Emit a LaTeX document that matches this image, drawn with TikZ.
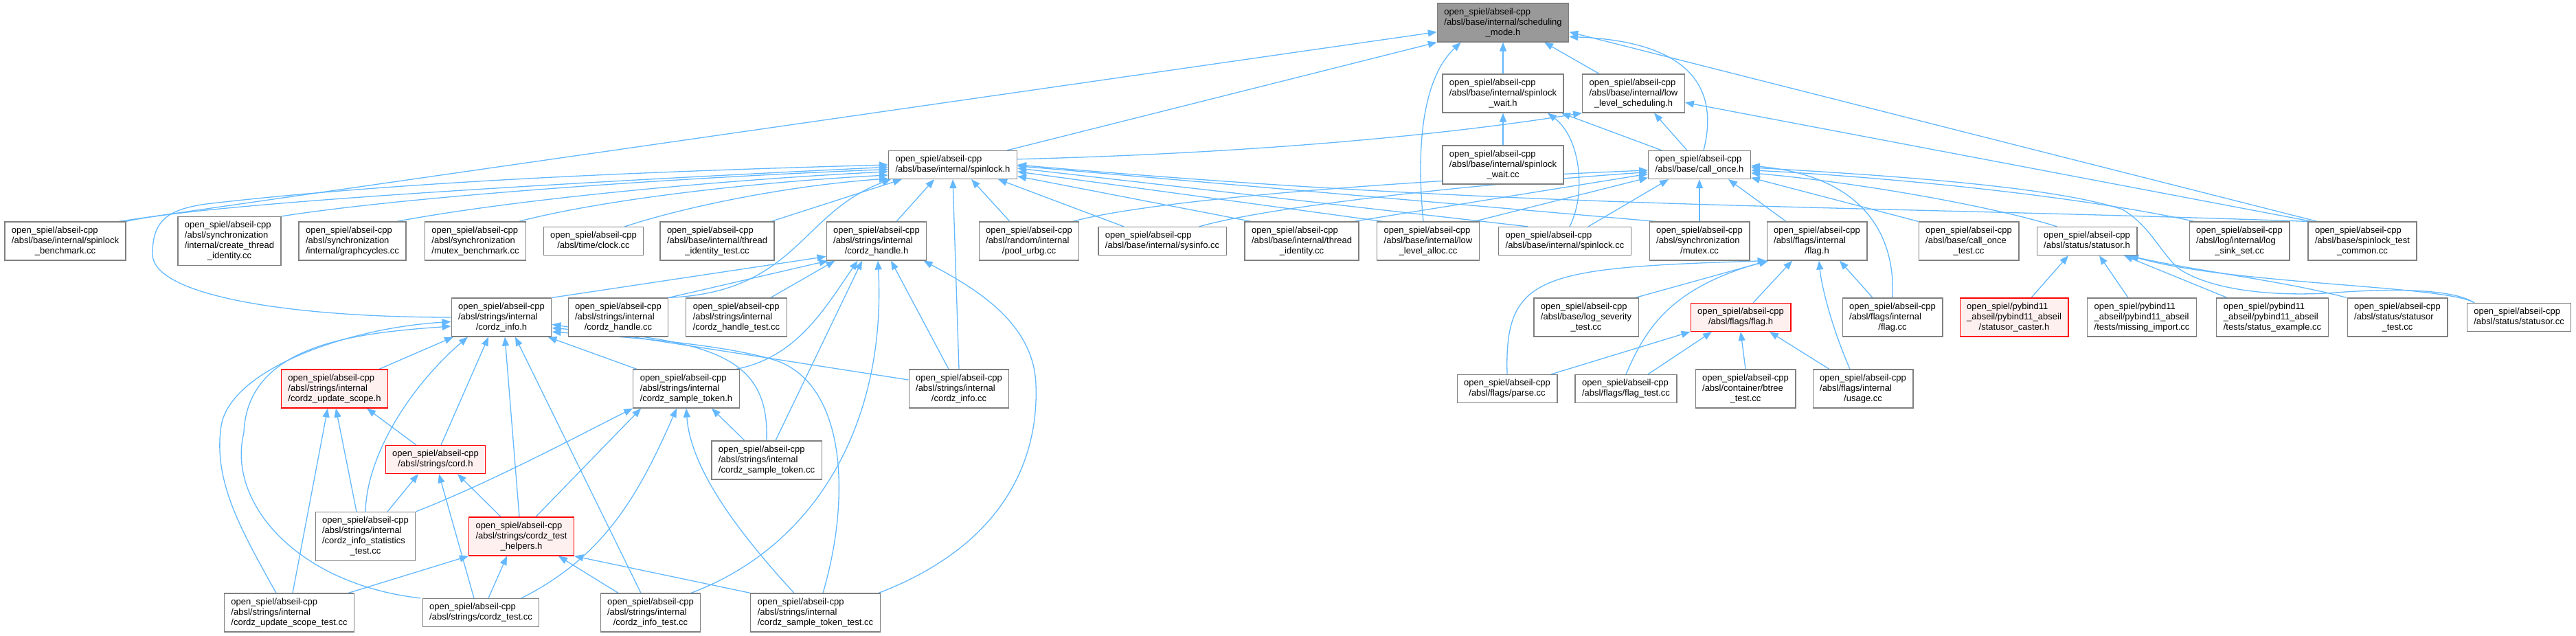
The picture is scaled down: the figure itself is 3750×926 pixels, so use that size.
\documentclass[tikz,border=0pt]{standalone}
\usepackage{fontspec}
\newfontfamily\dxfont{Liberation Sans}
\usetikzlibrary{arrows.meta}
\pgfdeclarelayer{bg}
\pgfsetlayers{bg,main}
\definecolor{eblue}{HTML}{63B8FF}
\definecolor{gborder}{HTML}{808080}
\definecolor{rootfill}{HTML}{999999}
\definecolor{redfill}{HTML}{FFF0F0}
\newcommand{\nlab}[2]{\begin{tabular}{@{}l@{}}#1\\\multicolumn{1}{@{}c@{}}{#2}\end{tabular}}
\newcommand{\osa}{open\_spiel/abseil-cpp}
\newcommand{\opb}{open\_spiel/pybind11}
\begin{document}
\begin{tikzpicture}[x=1pt,y=-1pt,
  nd/.style={draw=gborder, line width=1.2pt, fill=white, inner xsep=10pt, inner ysep=5.5pt, font=\dxfont\fontsize{13}{15}\selectfont},
  root/.style={nd, fill=rootfill},
  rd/.style={nd, draw=red, fill=redfill},
  edge/.style={draw=eblue, line width=1.3pt, -{Triangle[length=13pt,width=10pt]}}]
\useasboundingbox (0,0) rectangle (3750,926);
% ---------------- nodes
\node[root] (sm) at (2188,33) {\nlab{\osa\\/absl/base/internal/scheduling}{\_mode.h}};
\node[nd] (sw) at (2188,136) {\nlab{\osa\\/absl/base/internal/spinlock}{\_wait.h}};
\node[nd] (lls) at (2378,136) {\nlab{\osa\\/absl/base/internal/low}{\_level\_scheduling.h}};
\node[nd] (swcc) at (2188,240) {\nlab{\osa\\/absl/base/internal/spinlock}{\_wait.cc}};
\node[nd] (sl) at (1387,240) {\nlab{\osa}{/absl/base/internal/spinlock.h}};
\node[nd] (co) at (2474,240) {\nlab{\osa}{/absl/base/call\_once.h}};
% row y=351
\node[nd] (sb) at (95,351) {\nlab{\osa\\/absl/base/internal/spinlock}{\_benchmark.cc}};
\node[nd] (cti) at (334,351) {\nlab{\osa\\/absl/synchronization\\/internal/create\_thread}{\_identity.cc}};
\node[nd] (gc) at (513,351) {\nlab{\osa\\/absl/synchronization}{/internal/graphcycles.cc}};
\node[nd] (mb) at (692,351) {\nlab{\osa\\/absl/synchronization}{/mutex\_benchmark.cc}};
\node[nd] (clk) at (864,351) {\nlab{\osa}{/absl/time/clock.cc}};
\node[nd] (tit) at (1044,351) {\nlab{\osa\\/absl/base/internal/thread}{\_identity\_test.cc}};
\node[nd] (ch) at (1276,351) {\nlab{\osa\\/absl/strings/internal}{/cordz\_handle.h}};
\node[nd] (pu) at (1498,351) {\nlab{\osa\\/absl/random/internal}{/pool\_urbg.cc}};
\node[nd] (si) at (1692,351) {\nlab{\osa}{/absl/base/internal/sysinfo.cc}};
\node[nd] (ti) at (1895,351) {\nlab{\osa\\/absl/base/internal/thread}{\_identity.cc}};
\node[nd] (lla) at (2079,351) {\nlab{\osa\\/absl/base/internal/low}{\_level\_alloc.cc}};
\node[nd] (slcc) at (2278,351) {\nlab{\osa}{/absl/base/internal/spinlock.cc}};
\node[nd] (mx) at (2474,351) {\nlab{\osa\\/absl/synchronization}{/mutex.cc}};
\node[nd] (ifh) at (2645,351) {\nlab{\osa\\/absl/flags/internal}{/flag.h}};
\node[nd] (cot) at (2866,351) {\nlab{\osa\\/absl/base/call\_once}{\_test.cc}};
\node[nd] (so) at (3038,351) {\nlab{\osa}{/absl/status/statusor.h}};
\node[nd] (lss) at (3260,351) {\nlab{\osa\\/absl/log/internal/log}{\_sink\_set.cc}};
\node[nd] (stc) at (3439,351) {\nlab{\osa\\/absl/base/spinlock\_test}{\_common.cc}};
% row y=462
\node[nd] (ci) at (730,462) {\nlab{\osa\\/absl/strings/internal}{/cordz\_info.h}};
\node[nd] (chcc) at (900,462) {\nlab{\osa\\/absl/strings/internal}{/cordz\_handle.cc}};
\node[nd] (cht) at (1072,462) {\nlab{\osa\\/absl/strings/internal}{/cordz\_handle\_test.cc}};
\node[nd] (lst) at (2309,462) {\nlab{\osa\\/absl/base/log\_severity}{\_test.cc}};
\node[rd] (ff) at (2534,462) {\nlab{\osa}{/absl/flags/flag.h}};
\node[nd] (fcc) at (2755,462) {\nlab{\osa\\/absl/flags/internal}{/flag.cc}};
\node[rd] (sc) at (2932,462) {\nlab{\opb\\\_abseil/pybind11\_abseil}{/statusor\_caster.h}};
\node[nd] (mi) at (3118,462) {\nlab{\opb\\\_abseil/pybind11\_abseil}{/tests/missing\_import.cc}};
\node[nd] (se) at (3308,462) {\nlab{\opb\\\_abseil/pybind11\_abseil}{/tests/status\_example.cc}};
\node[nd] (sot) at (3490,462) {\nlab{\osa\\/absl/status/statusor}{\_test.cc}};
\node[nd] (socc) at (3667,462) {\nlab{\osa}{/absl/status/statusor.cc}};
% row y=566
\node[rd] (cus) at (487,566) {\nlab{\osa\\/absl/strings/internal}{/cordz\_update\_scope.h}};
\node[nd] (cst) at (999,566) {\nlab{\osa\\/absl/strings/internal}{/cordz\_sample\_token.h}};
\node[nd] (cicc) at (1396,566) {\nlab{\osa\\/absl/strings/internal}{/cordz\_info.cc}};
\node[nd] (pcc) at (2194,566) {\nlab{\osa}{/absl/flags/parse.cc}};
\node[nd] (ft) at (2367,566) {\nlab{\osa}{/absl/flags/flag\_test.cc}};
\node[nd] (bt) at (2541,566) {\nlab{\osa\\/absl/container/btree}{\_test.cc}};
\node[nd] (us) at (2712,566) {\nlab{\osa\\/absl/flags/internal}{/usage.cc}};
% row y=670
\node[rd] (cord) at (634,669) {\nlab{\osa}{/absl/strings/cord.h}};
\node[nd] (cstcc) at (1116,670) {\nlab{\osa\\/absl/strings/internal}{/cordz\_sample\_token.cc}};
% row y=781
\node[nd] (cist) at (532,781) {\nlab{\osa\\/absl/strings/internal\\/cordz\_info\_statistics}{\_test.cc}};
\node[rd] (cth) at (759,781) {\nlab{\osa\\/absl/strings/cordz\_test}{\_helpers.h}};
% row y=892
\node[nd] (cust) at (421,892) {\nlab{\osa\\/absl/strings/internal}{/cordz\_update\_scope\_test.cc}};
\node[nd] (ct) at (700,892) {\nlab{\osa}{/absl/strings/cordz\_test.cc}};
\node[nd] (cit) at (947,892) {\nlab{\osa\\/absl/strings/internal}{/cordz\_info\_test.cc}};
\node[nd] (cstt) at (1187,892) {\nlab{\osa\\/absl/strings/internal}{/cordz\_sample\_token\_test.cc}};
% ---------------- edges
\begin{pgfonlayer}{bg}
% to scheduling_mode.h
\draw[edge] ([xshift=-11pt]sb.north east) -- (sm.188);
\draw[edge] ([xshift=-15pt]sl.north east) -- (sm.south west);
\draw[edge] ([xshift=-7pt]lla.north) .. controls (2060,200) and (2075,110) .. ([xshift=35pt]sm.south west);
\draw[edge] (sw.north) -- (sm.south);
\draw[edge] ([xshift=-50pt]lls.north) -- ([xshift=60pt]sm.south);
\draw[edge] ([xshift=6pt]co.north) .. controls (2505,120) and (2450,60) .. (sm.-12);
\draw[edge] ([xshift=14pt]stc.north west) -- (sm.-8);
% to spinlock_wait.h
\draw[edge] (swcc.north) -- (sw.south);
\draw[edge] ([xshift=7pt]slcc.north) .. controls (2310,280) and (2300,200) .. ([xshift=65pt]sw.south);
\draw[edge] ([xshift=20pt]co.north west) -- ([xshift=85pt]sw.south);
% to low_level_scheduling.h
\draw[edge] (sl.5) .. controls (1750,225) and (2050,205) .. (lls.south west);
\draw[edge] ([xshift=-18pt]co.north) -- ([xshift=30pt]lls.south);
\draw[edge] ([xshift=6pt]stc.north west) -- (lls.-10);
% to spinlock.h
\draw[edge] (sb.north east) .. controls (300,295) and (900,262) .. (sl.182);
\draw[edge] (ci.west) .. controls (420,462) and (222,430) .. (222,370) .. controls (222,320) and (245,305) .. (300,297) .. controls (600,262) and (1000,248) .. (sl.180);
\draw[edge] (cti.north east) .. controls (600,285) and (1000,258) .. (sl.184);
\draw[edge] ([xshift=-14pt]gc.north east) .. controls (750,290) and (1050,262) .. (sl.186);
\draw[edge] ([xshift=-11pt]mb.north east) .. controls (880,290) and (1100,265) .. (sl.189);
\draw[edge] ([xshift=-28pt]clk.north east) .. controls (1000,300) and (1150,270) .. (sl.192);
\draw[edge] ([xshift=-5pt]tit.north east) -- ([xshift=20pt]sl.south west);
\draw[edge] (chcc.north east) .. controls (1160,425) and (1165,310) .. ([xshift=4pt]sl.south west);
\draw[edge] ([xshift=29pt]ch.north) -- ([xshift=-27pt]sl.south);
\draw[edge] (cicc.north) -- (sl.south);
\draw[edge] ([xshift=-28pt]pu.north) -- ([xshift=27pt]sl.south);
\draw[edge] ([xshift=-56pt]si.north) -- ([xshift=66pt]sl.south);
\draw[edge] ([xshift=10pt]ti.north west) -- (sl.-10);
\draw[edge] ([xshift=9pt]lla.north west) -- (sl.-6);
\draw[edge] ([xshift=43pt]slcc.north west) -- (sl.-3);
\draw[edge] ([xshift=10pt]mx.north west) -- (sl.-1);
\draw[edge] (stc.north west) .. controls (2623,297) and (2214,304) .. (sl.east);
% to call_once.h
\draw[edge] ([xshift=-8pt]ti.north east) -- (co.190);
\draw[edge] ([xshift=-8pt]lla.north east) -- (co.194);
\draw[edge] ([xshift=34pt]slcc.north) -- ([xshift=-45pt]co.south);
\draw[edge] (mx.north) -- (co.south);
\draw[edge] ([xshift=-45pt]ifh.north) -- ([xshift=42pt]co.south);
\draw[edge] ([xshift=-10pt]pu.north east) .. controls (1700,285) and (2150,258) .. (co.186);
\draw[edge] ([xshift=-40pt]si.north east) .. controls (1850,300) and (2150,268) .. (co.188);
\draw[edge] (cot.north west) -- (co.-14);
\draw[edge] ([xshift=30pt]so.north west) .. controls (2900,300) and (2700,265) .. (co.-9);
\draw[edge] ([xshift=8pt]lss.north west) .. controls (3000,280) and (2700,255) .. (co.-6);
\draw[edge] ([xshift=-65pt]socc.north) .. controls (3570,420) and (3480,420) .. (3400,426) .. controls (3320,432) and (3220,425) .. (3170,390) .. controls (3140,360) and (3130,330) .. (3090,305) .. controls (3000,275) and (2800,258) .. (co.-3);
\draw[edge] (fcc.north) .. controls (2760,330) and (2700,255) .. (co.-1);
% to flags/internal/flag.h
\draw[edge] (pcc.north) .. controls (2190,400) and (2240,390) .. (ifh.south west);
\draw[edge] ([xshift=-5pt]lst.north east) -- ([xshift=3pt]ifh.south west);
\draw[edge] (ft.north) .. controls (2395,480) and (2430,420) .. ([xshift=2pt]ifh.south west);
\draw[edge] ([xshift=18pt]ff.north) -- ([xshift=-36pt]ifh.south);
\draw[edge] ([xshift=-19pt]us.north) .. controls (2668,480) and (2652,420) .. ([xshift=3pt]ifh.south);
\draw[edge] ([xshift=-29pt]fcc.north) -- ([xshift=33pt]ifh.south);
% to flags/flag.h
\draw[edge] ([xshift=64pt]pcc.north) -- (ff.south west);
\draw[edge] ([xshift=32pt]ft.north) -- ([xshift=-42pt]ff.south);
\draw[edge] (bt.north) -- (ff.south);
\draw[edge] ([xshift=-49pt]us.north) -- ([xshift=42pt]ff.south);
% to statusor.h
\draw[edge] ([xshift=25pt]sc.north) -- ([xshift=-27pt]so.south);
\draw[edge] ([xshift=-20pt]mi.north) -- ([xshift=18pt]so.south);
\draw[edge] ([xshift=-66pt]se.north) -- ([xshift=54pt]so.south);
\draw[edge] ([xshift=-74pt]sot.north) .. controls (3330,410) and (3200,395) .. ([xshift=60pt]so.south);
\draw[edge] ([xshift=-65pt]socc.north) .. controls (3560,415) and (3250,415) .. ([xshift=62pt]so.south);
% to cordz_handle.h
\draw[edge] (ci.north east) -- (ch.197);
\draw[edge] (chcc.north east) -- ([xshift=3pt]ch.south west);
\draw[edge] ([xshift=-24pt]cht.north east) -- ([xshift=13pt]ch.south west);
\draw[edge] ([xshift=-5pt]cst.north east) .. controls (1160,520) and (1200,450) .. ([xshift=46pt]ch.south west);
\draw[edge] ([xshift=13pt]cstcc.north) -- ([xshift=-21pt]ch.south);
\draw[edge] ([xshift=59pt]cit.north) .. controls (1200,790) and (1290,600) .. ([xshift=2pt]ch.south);
\draw[edge] ([xshift=-15pt]cicc.north) -- ([xshift=21pt]ch.south);
\draw[edge] ([xshift=92pt]cstt.north) .. controls (1470,790) and (1512,660) .. (1508,560) .. controls (1505,470) and (1420,420) .. ([xshift=-5pt]ch.south east);
% to cordz_info.h
\draw[edge] ([xshift=-19pt]cust.north) .. controls (350,770) and (310,700) .. (322,620) .. controls (335,540) and (500,478) .. (ci.185);
\draw[edge] ([xshift=-88pt]ct.north) .. controls (430,850) and (330,730) .. (355,630) .. controls (360,500) and (520,485) .. (ci.190);
\draw[edge] ([xshift=65pt]cus.north) -- ([xshift=-70pt]ci.south);
\draw[edge] (cist.north) .. controls (534,660) and (600,560) .. ([xshift=-49pt]ci.south);
\draw[edge] ([xshift=8pt]cord.north) -- ([xshift=-19pt]ci.south);
\draw[edge] ([xshift=-3pt]cth.north) -- ([xshift=5pt]ci.south);
\draw[edge] ([xshift=-14pt]cit.north) -- ([xshift=20pt]ci.south);
\draw[edge] ([xshift=-72pt]cst.north) -- ([xshift=-6pt]ci.south east);
\draw[edge] (cicc.170) -- (ci.-8);
\draw[edge] (cstcc.north) .. controls (1120,520) and (1040,495) .. (ci.-12);
\draw[edge] ([xshift=11pt]cstt.north) .. controls (1240,720) and (1230,560) .. (1130,525) .. controls (1050,500) and (900,490) .. (ci.-16);
% to cordz_update_scope.h
\draw[edge] ([xshift=5pt]cust.north) -- ([xshift=-10pt]cus.south);
\draw[edge] ([xshift=-13pt]cist.north) -- ([xshift=2pt]cus.south);
\draw[edge] ([xshift=-28pt]cord.north) -- ([xshift=47pt]cus.south);
% to cord.h
\draw[edge] ([xshift=32pt]cist.north) -- ([xshift=-25pt]cord.south);
\draw[edge] ([xshift=-10pt]ct.north) -- ([xshift=5pt]cord.south);
\draw[edge] ([xshift=-30pt]cth.north) -- ([xshift=32pt]cord.south);
% to cordz_test_helpers.h
\draw[edge] ([xshift=86pt]cust.north) -- (cth.south west);
\draw[edge] ([xshift=11pt]ct.north) -- ([xshift=-21pt]cth.south);
\draw[edge] ([xshift=-47pt]cit.north) -- ([xshift=54pt]cth.south);
\draw[edge] (cstt.north west) -- (cth.south east);
% to cordz_sample_token.h
\draw[edge] (cist.north east) .. controls (720,700) and (850,630) .. (cst.south west);
\draw[edge] ([xshift=21pt]cth.north) -- ([xshift=12pt]cst.south west);
\draw[edge] ([xshift=59pt]ct.north) .. controls (880,810) and (930,720) .. ([xshift=-14pt]cst.south);
\draw[edge] ([xshift=-31pt]cstt.north) .. controls (1070,770) and (1005,680) .. (cst.south);
\draw[edge] ([xshift=-32pt]cstcc.north) -- ([xshift=37pt]cst.south);
\end{pgfonlayer}
\end{tikzpicture}
\end{document}
